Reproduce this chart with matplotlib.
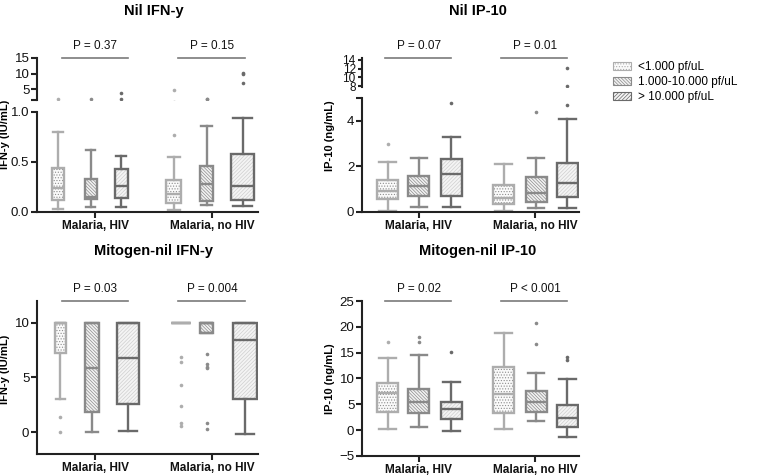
import matplotlib
matplotlib.use('Agg')
import matplotlib.pyplot as plt
from matplotlib.patches import PathPatch, Patch

plt.rcParams['font.family'] = ['Liberation Sans', 'DejaVu Sans']
plt.rcParams['hatch.linewidth'] = 0.5

# ---- data (whislo, q1, median, q3, whishi) : HIV x3 parasitemia, no HIV x3 ----
groups = ['Malaria, HIV', 'Malaria, no HIV']
legend_labels = ['<1.000 pf/uL', '1.000-10.000 pf/uL', '> 10.000 pf/uL']

nil_ifn = [(0.03, 0.12, 0.24, 0.44, 0.80), (0.05, 0.13, 0.15, 0.33, 0.62), (0.05, 0.14, 0.26, 0.43, 0.56),
           (0.02, 0.09, 0.18, 0.32, 0.55), (0.07, 0.11, 0.28, 0.46, 0.86), (0.06, 0.12, 0.26, 0.58, 0.94)]
nil_ifn_out = [[1.9], [1.9], [1.9, 3.8], [4.7, 0.77], [1.9, 1.95], [7.0, 10.0, 10.2]]
nil_ifn_p = ['P = 0.37', 'P = 0.15']

nil_ip = [(0.05, 0.58, 0.90, 1.42, 2.20), (0.20, 0.70, 1.13, 1.60, 2.35), (0.20, 0.70, 1.66, 2.33, 3.30),
          (0.06, 0.36, 0.60, 1.17, 2.12), (0.18, 0.45, 0.85, 1.52, 2.38), (0.18, 0.66, 1.29, 2.13, 4.08)]
nil_ip_out = [[2.98], [], [4.8], [], [4.4], [4.7, 8.0, 12.2]]
nil_ip_p = ['P = 0.07', 'P = 0.01']

mit_ifn = [(3.0, 7.2, 10, 10, 10), (0.0, 1.8, 5.9, 10, 10), (0.1, 2.6, 6.8, 10, 10),
           (10, 10, 10, 10, 10), (9.1, 9.1, 10, 10, 10), (-0.2, 3.0, 8.4, 10, 10)]
mit_ifn_out = [[1.4, 0.0], [], [], [6.9, 6.4, 4.3, 2.4, 0.85, 0.57],
               [7.15, 6.2, 5.9, 5.95, 0.8, 0.25], []]
mit_ifn_p = ['P = 0.03', 'P = 0.004']

mit_ip = [(0.2, 3.5, 7.1, 9.1, 13.9), (0.6, 3.3, 5.4, 7.9, 14.5), (-0.2, 2.1, 4.0, 5.4, 9.3),
          (0.2, 3.3, 7.0, 12.2, 18.8), (1.8, 3.5, 5.4, 7.6, 11.0), (-1.3, 0.6, 2.3, 4.8, 9.9)]
mit_ip_out = [[17], [17, 18], [15.1], [], [16.7, 20.7], [13.6, 14.1]]
mit_ip_p = ['P = 0.02', 'P < 0.001']

# ---- style ----
W, H = 763, 475
edge_cols = ['#adadad', '#8a8a8a', '#6a6a6a']
hatches = ['......', '\\' * 10, '/' * 9]
hatch_cols = ['#8e8e8e', '#8c8c8c', '#cfcfcf']
face_cols = ['#fafafa', '#f2f2f2', '#f4f4f4']
axcol = '#222222'

fig = plt.figure(figsize=(7.63, 4.75), dpi=100)


def px_rect(l, t, r, b):
    return [l / W, 1 - b / H, (r - l) / W, (b - t) / H]


def style(ax, bottom=True):
    for s in ['top', 'right']:
        ax.spines[s].set_visible(False)
    ax.spines['left'].set_linewidth(1.5)
    ax.spines['left'].set_color(axcol)
    ax.spines['bottom'].set_linewidth(1.5)
    ax.spines['bottom'].set_color(axcol)
    ax.tick_params(width=1.5, length=4, labelsize=9.5, color=axcol, labelcolor='#111')
    ax.tick_params(axis='x', pad=1.5)
    ax.tick_params(axis='y', pad=1.5)
    if bottom:
        ax.set_xticks([1, 2])
        ax.set_xticklabels(groups, fontsize=8.5, fontweight='bold')
    else:
        ax.spines['bottom'].set_visible(False)
        ax.set_xticks([])


def draw_boxes(ax, stats, outl, offsets, widths):
    for i in range(6):
        k = i % 3
        lo, q1, med, q3, hi = stats[i]
        st = dict(whislo=lo, q1=q1, med=med, q3=q3, whishi=hi, fliers=outl[i])
        c = edge_cols[k]
        bp = ax.bxp([st], positions=[1 + i // 3 + offsets[i]], widths=[widths[i]],
                    capwidths=[widths[i] * 0.8], patch_artist=True, manage_ticks=False,
                    boxprops=dict(facecolor='none', edgecolor=c, linewidth=1.7),
                    whiskerprops=dict(color=c, linewidth=1.7),
                    capprops=dict(color=c, linewidth=1.7),
                    medianprops=dict(color=c, linewidth=1.7),
                    flierprops=dict(marker='o', markersize=2.6, markerfacecolor=c,
                                    markeredgecolor='none'))
        box = bp['boxes'][0]
        hp = PathPatch(box.get_path(), facecolor=face_cols[k], edgecolor=hatch_cols[k],
                       hatch=hatches[k], linewidth=0, zorder=1.5)
        ax.add_patch(hp)


def p_values(ax, texts):
    tr = ax.get_xaxis_transform()
    for g, t in zip([1, 2], texts):
        ax.plot([g - 0.29, g + 0.28], [1, 1], transform=tr, clip_on=False, color='#7a7a7a', lw=1.2)
        ax.annotate(t, xy=(g, 1), xycoords=tr, xytext=(0, 4.5), textcoords='offset points',
                    ha='center', va='bottom', fontsize=8.5, color='#111', annotation_clip=False)


def title(x, y, t):
    fig.text(x / W, 1 - y / H, t, ha='center', va='center', fontsize=10.5, fontweight='bold')


off_l1 = [-0.32, -0.04, 0.22, -0.33, -0.05, 0.26]
wid_l1 = [0.10, 0.10, 0.11, 0.13, 0.11, 0.20]
off_l2 = [-0.30, -0.03, 0.28, -0.27, -0.05, 0.28]
wid_l2 = [0.10, 0.12, 0.19, 0.17, 0.11, 0.20]
off_r = [-0.27, 0.0, 0.28, -0.27, 0.01, 0.28]
wid_r = [0.18] * 6

# ---- Nil IFN-y (broken axis) ----
ax_lo = fig.add_axes(px_rect(37, 112, 258, 212))
ax_hi = fig.add_axes(px_rect(37, 58, 258, 100))
for a in (ax_lo, ax_hi):
    draw_boxes(a, nil_ifn, nil_ifn_out, off_l1, wid_l1)
    a.set_xlim(0.5, 2.39)
ax_lo.set_ylim(0, 1.0)
ax_lo.set_yticks([0, 0.5, 1.0], ['0.0', '0.5', '1.0'])
ax_hi.set_ylim(1.5, 15)
ax_hi.set_yticks([1.5, 5, 10, 15], ['', '5', '10', '15'])
style(ax_lo)
style(ax_hi, bottom=False)
ax_lo.set_ylabel('IFN-y (IU/mL)', fontsize=8, fontweight='bold')
ax_lo.yaxis.set_label_coords(-0.12, 0.78)
p_values(ax_hi, nil_ifn_p)
title(154, 11, 'Nil IFN-y')

# ---- Nil IP-10 (broken axis) ----
ax_lo = fig.add_axes(px_rect(362, 98, 579, 212))
ax_hi = fig.add_axes(px_rect(362, 58, 579, 87))
for a in (ax_lo, ax_hi):
    draw_boxes(a, nil_ip, nil_ip_out, off_r, wid_r)
    a.set_xlim(0.51, 2.38)
ax_lo.set_ylim(0, 5)
ax_lo.set_yticks([0, 2, 4, 5], ['0', '2', '4', ''])
ax_hi.set_ylim(7.8, 14.4)
ax_hi.set_yticks([8, 10, 12, 14])
style(ax_lo)
style(ax_hi, bottom=False)
ax_hi.tick_params(axis='y', labelsize=8.5, length=3, pad=1.5)
ax_lo.set_ylabel('IP-10 (ng/mL)', fontsize=8, fontweight='bold')
ax_lo.yaxis.set_label_coords(-0.125, 0.67)
p_values(ax_hi, nil_ip_p)
title(478, 11, 'Nil IP-10')

# ---- Mitogen-nil IFN-y ----
ax = fig.add_axes(px_rect(37, 301, 258, 454))
draw_boxes(ax, mit_ifn, mit_ifn_out, off_l2, wid_l2)
ax.set_xlim(0.5, 2.39)
ax.set_ylim(-2, 12)
ax.set_yticks([0, 5, 10])
style(ax)
ax.set_ylabel('IFN-y (IU/mL)', fontsize=8, fontweight='bold')
ax.yaxis.set_label_coords(-0.12, 0.555)
p_values(ax, mit_ifn_p)
title(154, 251, 'Mitogen-nil IFN-y')

# ---- Mitogen-nil IP-10 ----
ax = fig.add_axes(px_rect(362, 301, 579, 456))
draw_boxes(ax, mit_ip, mit_ip_out, off_r, wid_r)
ax.set_xlim(0.51, 2.38)
ax.set_ylim(-5, 25)
ax.set_yticks([-5, 0, 5, 10, 15, 20, 25])
style(ax)
ax.set_ylabel('IP-10 (ng/mL)', fontsize=8, fontweight='bold')
ax.yaxis.set_label_coords(-0.125, 0.5)
p_values(ax, mit_ip_p)
title(478, 251, 'Mitogen-nil IP-10')

# ---- legend ----
handles = [Patch(facecolor=face_cols[k], edgecolor=edge_cols[k], hatch=hatches[k], linewidth=0.8)
           for k in range(3)]
fig.legend(handles, legend_labels, loc='upper left', bbox_to_anchor=(613 / W, 1 - 61 / H),
           frameon=False, fontsize=8.5, handlelength=1.5, handleheight=0.7,
           labelspacing=0.25, handletextpad=0.6, borderpad=0, borderaxespad=0)

fig.savefig('out.png', dpi=100)
